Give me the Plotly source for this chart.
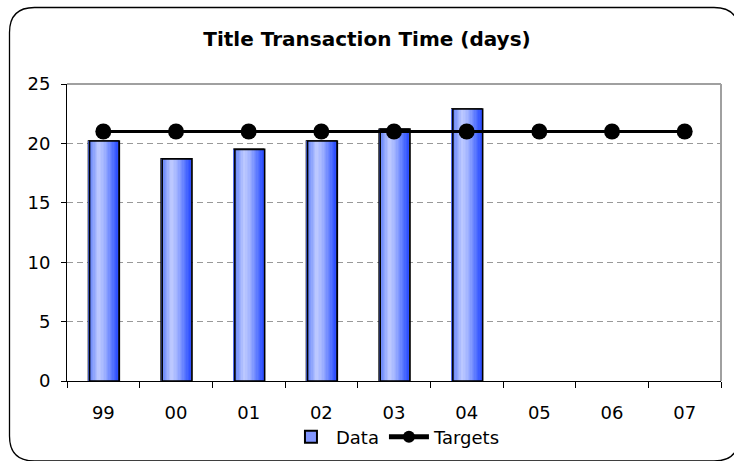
import plotly.graph_objects as go

# Chart data
years = ["99", "00", "01", "02", "03", "04", "05", "06", "07"]
data_days = [20.2, 18.7, 19.5, 20.2, 21.2, 22.9, None, None, None]
target_days = [21, 21, 21, 21, 21, 21, 21, 21, 21]
y_ticks = [0, 5, 10, 15, 20, 25]

W, H = 734, 461
ML, MR, MT, MB = 67, 13, 84, 80
PW, PH = W - ML - MR, H - MT - MB

FONT = "DejaVu Sans"
BAR_W = 0.41
N_STRIPES = 22

# horizontal gradient stops across the bar (position, rgb)
stops = [
    (0.00, (72, 102, 238)),
    (0.12, (118, 146, 250)),
    (0.36, (192, 204, 255)),
    (0.55, (160, 178, 255)),
    (0.80, (92, 122, 255)),
    (1.00, (42, 76, 255)),
]


def grad_color(t):
    for (p0, c0), (p1, c1) in zip(stops[:-1], stops[1:]):
        if p0 <= t <= p1:
            f = (t - p0) / (p1 - p0)
            r, g, b = (round(a + (b_ - a) * f) for a, b_ in zip(c0, c1))
            return f"rgb({r},{g},{b})"
    return "rgb(%d,%d,%d)" % stops[-1][1]


def px_to_paper(x, y):
    return (x - ML) / PW, (MT + PH - y) / PH


fig = go.Figure()

# base bar carries the legend entry
fig.add_trace(go.Bar(
    x=years, y=data_days, name="Data", width=BAR_W,
    marker=dict(color="rgb(130,150,255)", line=dict(color="black", width=1.5)),
))

# gradient stripes
sw = BAR_W / N_STRIPES
for i in range(N_STRIPES):
    t = (i + 0.5) / N_STRIPES
    fig.add_trace(go.Bar(
        x=years, y=data_days, width=sw * 1.15, offset=-BAR_W / 2 + i * sw,
        marker=dict(color=grad_color(t), line=dict(width=0)),
        showlegend=False, hoverinfo="skip",
    ))

# bar outline on top
fig.add_trace(go.Bar(
    x=years, y=data_days, width=BAR_W, offset=-BAR_W / 2 + 0.015,
    marker=dict(color="rgba(0,0,0,0)", line=dict(color="black", width=1.6)),
    showlegend=False, hoverinfo="skip",
))

fig.add_trace(go.Scatter(
    x=years, y=target_days, name="Targets", mode="lines+markers",
    line=dict(color="black", width=3),
    marker=dict(color="black", size=16),
))

# rounded outer frame
x0, y0 = px_to_paper(9.5, 7.5)
x1, y1 = px_to_paper(739, 461)
rx = 25 / PW
ry = 25 / PH
path = (
    f"M {x0 + rx},{y0} L {x1 - rx},{y0} Q {x1},{y0} {x1},{y0 - ry} "
    f"L {x1},{y1 + ry} Q {x1},{y1} {x1 - rx},{y1} "
    f"L {x0 + rx},{y1} Q {x0},{y1} {x0},{y1 + ry} "
    f"L {x0},{y0 - ry} Q {x0},{y0} {x0 + rx},{y0} Z"
)

shapes = [
    dict(type="path", xref="paper", yref="paper", path=path,
         line=dict(color="black", width=1.3), layer="below"),
    # gray top and right edges of the plot area
    dict(type="line", xref="paper", yref="paper", x0=0, x1=1, y0=1, y1=1,
         line=dict(color="#a0a0a0", width=2)),
    dict(type="line", xref="paper", yref="paper", x0=1, x1=1, y0=0, y1=1,
         line=dict(color="#a0a0a0", width=2)),
]

fig.update_layout(
    width=W, height=H,
    margin=dict(l=ML, r=MR, t=MT, b=MB, pad=0, autoexpand=False),
    paper_bgcolor="white", plot_bgcolor="white",
    barmode="overlay",
    font=dict(family=FONT, size=18, color="black"),
    title=dict(text="<b>Title Transaction Time (days)</b>",
               x=0.5, xanchor="center", xref="container",
               y=(H - 39) / H, yanchor="middle", yref="container",
               font=dict(family=FONT, size=20, color="black")),
    xaxis=dict(type="category", range=[-0.5, 8.5], showgrid=False,
               automargin=False,
               showline=True, linecolor="black", linewidth=1,
               ticks="outside", tickson="boundaries", ticklen=6,
               tickcolor="black", ticklabelstandoff=15,
               tickfont=dict(family=FONT, size=18)),
    yaxis=dict(range=[0, 25], tickvals=y_ticks, showgrid=True,
               automargin=False,
               gridcolor="#999999", griddash="6px,4px", gridwidth=1,
               zeroline=False, showline=True, linecolor="black", linewidth=1,
               ticks="outside", ticklen=5, tickcolor="black",
               ticklabelstandoff=7, tickfont=dict(family=FONT, size=18)),
    legend=dict(orientation="h", x=0.503, xanchor="center",
                y=(H - 437) / H, yref="container", yanchor="middle",
                font=dict(family=FONT, size=18), traceorder="normal",
                itemwidth=40, itemsizing="constant"),
    shapes=shapes,
    showlegend=True,
)

fig.write_html("out.html")
